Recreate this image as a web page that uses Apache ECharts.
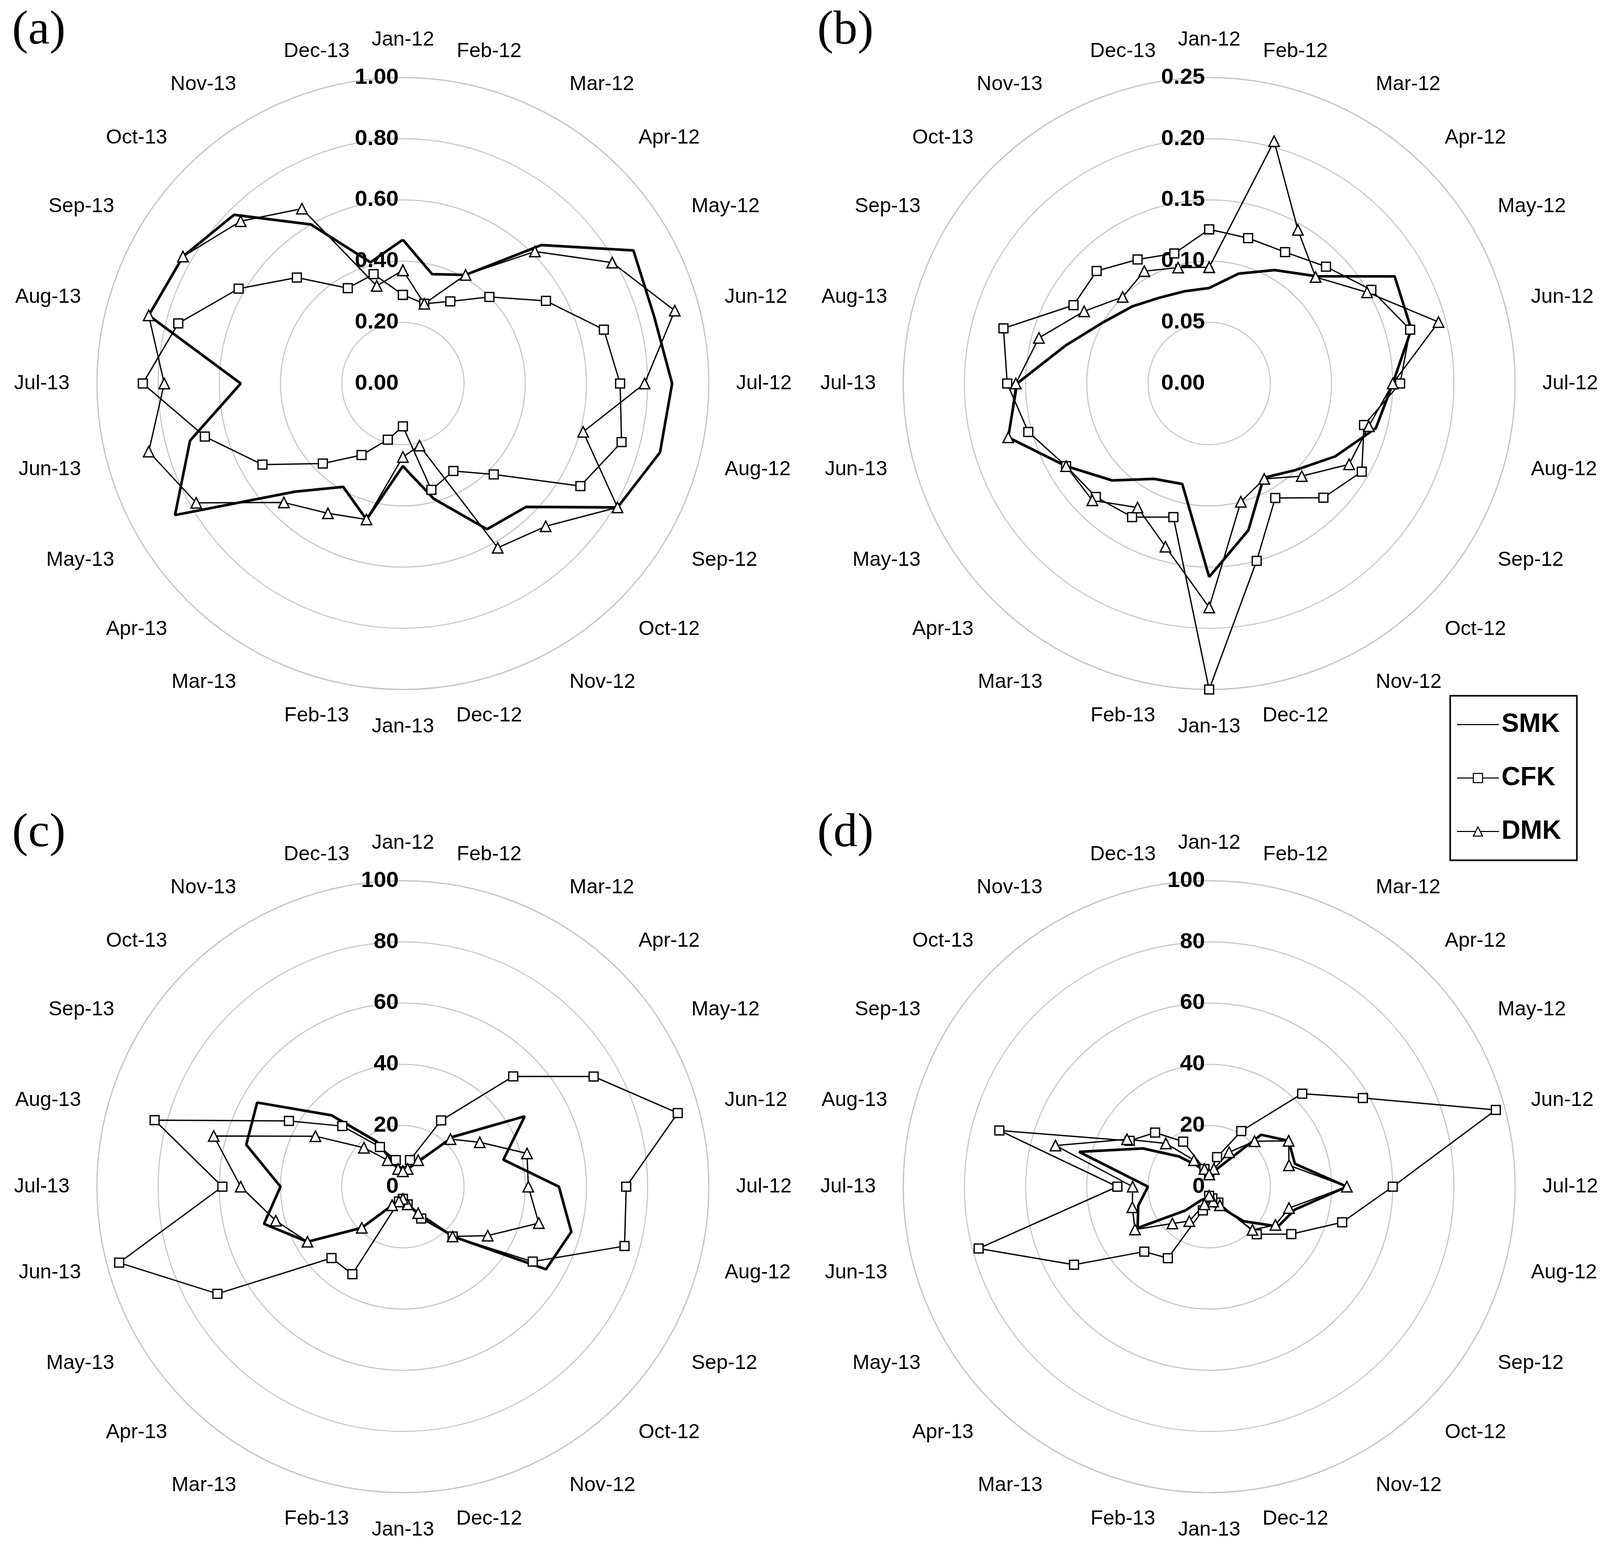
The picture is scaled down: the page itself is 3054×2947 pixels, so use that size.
<!DOCTYPE html>
<html>
<head>
<meta charset="utf-8">
<script src="https://cdn.jsdelivr.net/npm/echarts@6/dist/echarts.min.js"></script>
<style>html,body{margin:0;background:#fff}#c{width:3054px;height:2947px}</style>
</head>
<body>
<div id="c"></div>
<script>
const months = ['Jan-12','Feb-12','Mar-12','Apr-12','May-12','Jun-12','Jul-12','Aug-12','Sep-12','Oct-12','Nov-12','Dec-12',
  'Jan-13','Feb-13','Mar-13','Apr-13','May-13','Jun-13','Jul-13','Aug-13','Sep-13','Oct-13','Nov-13','Dec-13'];

// panel (a)
const smkA = [0.47,0.37,0.41,0.64,0.87,0.85,0.88,0.87,0.81,0.57,0.55,0.39,0.27,0.46,0.39,0.50,0.86,0.72,0.53,0.86,0.83,0.78,0.60,0.41];
const cfkA = [0.29,0.27,0.31,0.40,0.54,0.68,0.71,0.74,0.67,0.42,0.33,0.36,0.14,0.19,0.27,0.37,0.53,0.67,0.85,0.76,0.62,0.49,0.36,0.37];
const dmkA = [0.37,0.27,0.41,0.61,0.79,0.92,0.79,0.61,0.81,0.66,0.62,0.21,0.24,0.46,0.49,0.55,0.78,0.86,0.78,0.86,0.83,0.75,0.66,0.33];
// panel (b)
const smkB = [0.078,0.093,0.107,0.124,0.175,0.171,0.150,0.141,0.119,0.100,0.089,0.124,0.158,0.085,0.090,0.112,0.135,0.170,0.157,0.121,0.100,0.089,0.081,0.078];
const cfkB = [0.126,0.123,0.124,0.135,0.153,0.170,0.156,0.131,0.144,0.132,0.108,0.150,0.250,0.113,0.126,0.131,0.135,0.153,0.165,0.174,0.128,0.130,0.117,0.110];
const dmkB = [0.095,0.205,0.145,0.123,0.149,0.194,0.150,0.135,0.132,0.107,0.090,0.100,0.183,0.138,0.117,0.135,0.135,0.170,0.158,0.144,0.118,0.100,0.106,0.098];
// panel (c)
const smkC = [5,6,9,23,46,34,51,57,54,23,10,6,4,5,7,19,36,47,40,53,55,33,17,6];
const cfkC = [5,9,25,51,72,93,73,75,49,23,12,6,4,5,33,33,70,96,59,84,43,28,15,9];
const dmkC = [5,6,10,22,29,42,41,46,32,23,10,6,4,5,7,19,36,43,53,64,33,18,10,6];
// panel (d)
const smkD = [3,5,8,24,30,29,45,29,26,16,8,5,3,4,5,11,27,24,20,44,25,14,8,5];
const cfkD = [4,10,21,43,58,97,60,45,31,22,6,4,3,8,27,30,51,78,30,71,30,25,17,6];
const dmkD = [4,6,13,21,30,27,45,27,25,20,7,5,3,6,13,17,28,26,25,52,31,20,10,6];

const panels = [
  {tag:'(a)', c:[769,732], max:1, dec:2, s:[smkA,cfkA,dmkA]},
  {tag:'(b)', c:[2308,732], max:0.25, dec:2, s:[smkB,cfkB,dmkB]},
  {tag:'(c)', c:[769,2265], max:100, dec:0, s:[smkC,cfkC,dmkC]},
  {tag:'(d)', c:[2308,2265], max:100, dec:0, s:[smkD,cfkD,dmkD]}
];
const names = ['SMK','CFK','DMK'];

function closed(arr) {
  let d = arr.map((v,i) => [v,i]);
  d.push([arr[0],24]);
  return d;
}

let polar = [], angleAxis = [], radiusAxis = [], series = [], title = [];
panels.forEach((p,k) => {
  polar.push({center:p.c, radius:584});
  angleAxis.push({
    polarIndex:k, type:'value', min:0, max:24, interval:1, startAngle:90, clockwise:true,
    axisLine:{show:true, lineStyle:{color:'#c4c4c4', width:2}},
    axisTick:{show:false}, splitLine:{show:false},
    axisLabel:{margin:52, fontSize:39, color:'#000', fontFamily:'Liberation Sans',
      formatter: v => v < 24 ? months[v] : ''}
  });
  radiusAxis.push({
    polarIndex:k, type:'value', min:0, max:p.max, interval:p.max/5,
    axisLine:{show:false}, axisTick:{show:false},
    splitLine:{show:true, lineStyle:{color:'#c4c4c4', width:2}},
    axisLabel:{fontSize:43, fontWeight:'bold', color:'#000', fontFamily:'Liberation Sans',
      formatter: v => v.toFixed(p.dec)}
  });
  title.push({text:p.tag, left:k%2 ? 1555 : 18, top:k<2 ? 8 : 1540,
    textStyle:{fontSize:92, fontWeight:'normal', fontFamily:'Liberation Serif', color:'#000'}});
  series.push(
    {name:'SMK', type:'line', coordinateSystem:'polar', polarIndex:k, data:closed(p.s[0]),
      symbol:'circle', symbolSize:0, lineStyle:{color:'#000', width:5}, itemStyle:{color:'#000', opacity:0}, z:3},
    {name:'CFK', type:'line', coordinateSystem:'polar', polarIndex:k, data:closed(p.s[1]),
      symbol:'rect', symbolSize:17, lineStyle:{color:'#000', width:2.5},
      itemStyle:{color:'#fff', borderColor:'#000', borderWidth:2.5}},
    {name:'DMK', type:'line', coordinateSystem:'polar', polarIndex:k, data:closed(p.s[2]),
      symbol:'triangle', symbolSize:20, lineStyle:{color:'#000', width:2.5},
      itemStyle:{color:'#fff', borderColor:'#000', borderWidth:2.5}}
  );
});

const chart = echarts.init(document.getElementById('c'));
chart.setOption({
  animation:false,
  backgroundColor:'#fff',
  title: title,
  polar: polar,
  angleAxis: angleAxis,
  radiusAxis: radiusAxis,
  legend: {data:names, orient:'vertical', left:2768, top:1328, itemWidth:80, itemHeight:22,
    itemGap:52, padding:[30,30,30,12], borderColor:'#000', borderWidth:3,
    textStyle:{fontSize:50, fontWeight:'bold', color:'#000', fontFamily:'Liberation Sans'}},
  series: series
});
</script>
</body>
</html>
